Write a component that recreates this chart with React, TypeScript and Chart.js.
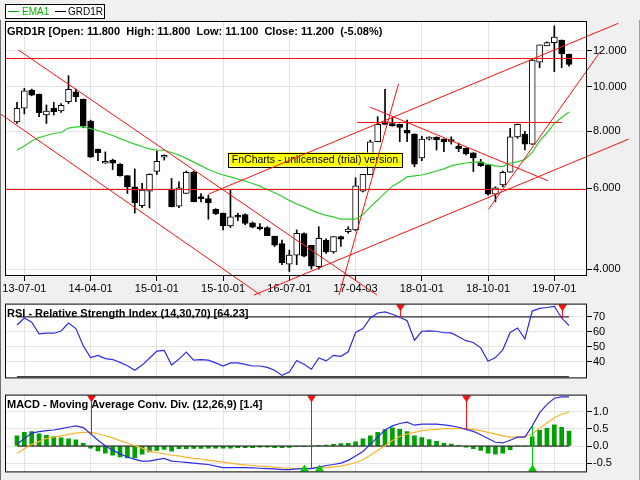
import React, { useEffect, useRef } from 'react';
import { Chart, registerables } from 'chart.js';

Chart.register(...registerables);

const FONT = '"Liberation Sans", Arial, Helvetica, sans-serif';
const GRID = '#e3e3e3';

// ---- x axis (monthly bars, index 0 = 2013-06) ----
const dateTickIndex = [1, 10, 19, 28, 37, 46, 55, 64, 73];
const dateLabels = ['13-07-01', '14-04-01', '15-01-01', '15-10-01', '16-07-01', '17-04-03', '18-01-01', '18-10-01', '19-07-01'];
const X_MIN = -1.63;
const X_MAX = 77.44;

// ---- price data ----
const opens = [
  8.39, 8.98, 9.84, 9.65, 8.68, 8.98, 8.86, 9.28, 9.76, 9.40,
  8.42, 7.31, 6.81, 6.92, 6.77, 6.40, 6.05, 5.50, 5.92, 6.54,
  7.02, 5.97, 5.49, 5.85, 6.51, 5.75, 5.70, 5.40, 5.30, 4.97,
  5.21, 5.26, 5.05, 4.93, 4.93, 4.72, 4.55, 4.10, 4.29, 4.78,
  4.51, 4.05, 4.63, 4.36, 4.71, 4.83, 4.87, 5.92, 6.43, 7.59,
  8.39, 8.32, 8.28, 8.05, 7.89, 7.00, 7.69, 7.76, 7.69, 7.65,
  7.43, 7.34, 7.18, 6.86, 6.76, 5.83, 6.11, 6.51, 7.78, 7.89,
  7.50, 11.32, 12.29, 12.49, 12.66, 11.80,
];
const highs = [
  9.25, 9.93, 9.89, 9.65, 9.13, 9.25, 9.20, 10.58, 9.89, 9.40,
  8.46, 7.31, 7.21, 6.95, 6.80, 6.40, 6.62, 6.16, 6.46, 7.25,
  7.10, 6.31, 6.20, 6.55, 6.55, 5.85, 5.80, 5.42, 5.30, 5.97,
  5.30, 5.28, 5.07, 5.03, 4.95, 4.72, 4.63, 4.40, 4.87, 4.80,
  4.51, 4.95, 4.66, 4.71, 4.72, 4.95, 6.33, 6.44, 7.65, 8.61,
  9.88, 8.58, 8.30, 8.46, 7.90, 7.80, 7.78, 7.78, 7.70, 7.78,
  7.54, 7.36, 7.18, 6.95, 6.76, 6.05, 6.55, 8.12, 8.30, 8.00,
  11.50, 12.35, 12.55, 13.59, 12.66, 11.80,
];
const lows = [
  8.32, 8.73, 9.56, 8.61, 8.32, 8.68, 8.80, 9.20, 9.28, 8.14,
  7.02, 6.90, 6.81, 6.60, 6.38, 5.85, 5.30, 5.45, 5.44, 6.44,
  6.92, 5.47, 5.45, 5.85, 5.61, 5.61, 5.14, 5.26, 4.87, 4.93,
  5.10, 5.00, 4.92, 4.87, 4.73, 4.48, 4.09, 3.95, 4.09, 4.25,
  4.00, 4.00, 4.33, 4.33, 4.48, 4.79, 4.85, 5.90, 6.43, 7.59,
  8.29, 8.20, 7.59, 7.59, 6.69, 6.90, 7.66, 7.28, 7.22, 7.50,
  7.22, 7.10, 6.53, 6.70, 5.80, 5.61, 6.05, 6.51, 7.72, 7.28,
  7.48, 11.01, 12.29, 10.80, 11.01, 11.10,
];
const closes = [
  8.98, 9.81, 9.59, 8.78, 8.86, 8.83, 9.12, 9.88, 9.52, 8.21,
  7.02, 7.18, 6.88, 6.81, 6.40, 6.05, 5.58, 5.95, 6.44, 6.88,
  7.04, 5.47, 6.02, 6.51, 5.61, 5.70, 5.58, 5.28, 4.97, 5.20,
  5.19, 5.03, 4.94, 4.90, 4.73, 4.51, 4.13, 4.29, 4.79, 4.27,
  4.06, 4.67, 4.36, 4.71, 4.65, 4.89, 6.08, 6.44, 7.59, 8.28,
  8.28, 8.23, 8.16, 7.92, 6.78, 7.69, 7.76, 7.67, 7.59, 7.60,
  7.33, 7.14, 7.00, 6.73, 5.83, 6.02, 6.51, 7.78, 8.28, 7.50,
  11.45, 12.35, 12.49, 12.84, 11.80, 11.20,
];
const ema1 = [
  7.28, 7.43, 7.62, 7.75, 7.83, 7.91, 7.95, 8.13, 8.18, 8.18,
  8.11, 8.03, 7.93, 7.83, 7.71, 7.60, 7.50, 7.41, 7.32, 7.28,
  7.27, 7.19, 7.10, 6.98, 6.85, 6.73, 6.60, 6.50, 6.42, 6.36,
  6.29, 6.23, 6.15, 6.07, 5.97, 5.87, 5.77, 5.65, 5.55, 5.47,
  5.38, 5.30, 5.24, 5.20, 5.14, 5.14, 5.14, 5.26, 5.47, 5.66,
  5.87, 6.07, 6.20, 6.36, 6.39, 6.42, 6.48, 6.55, 6.62, 6.72,
  6.78, 6.82, 6.85, 6.85, 6.77, 6.72, 6.70, 6.82, 6.86, 6.94,
  7.19, 7.62, 7.93, 8.32, 8.57, 8.81,
];
const priceTicks = [4, 6, 8, 10, 12];
const PRICE_MIN = 3.863;
const PRICE_MAX = 13.93;

// drawn trend lines: [startIndex, startPrice, endIndex, endPrice]
const trendLines = [
  [0.18, 12.04, 48.9, 3.51],
  [-2.4, 8.76, 33.1, 3.51],
  [26.0, 5.83, 81.7, 13.77],
  [32.2, 3.51, 83.1, 7.69],
  [43.75, 3.51, 51.83, 10.15],
  [47.98, 9.03, 72.13, 6.24],
  [64.06, 5.40, 79.24, 11.94],
];
const hLinePrices = [5.98, 11.55, 8.39];
const hLineFrom = [X_MIN, X_MIN, 46.2];
const hLineTo = [X_MAX, X_MAX, 74.0];

// ---- RSI ----
const rsi = [
  64.6, 69.3, 66.5, 58.7, 59.1, 59.1, 60.6, 65.9, 62.2, 50.7,
  42.8, 44.3, 42.1, 41.5, 39.6, 37.4, 34.4, 37.8, 42.4, 47.1,
  47.6, 37.8, 41.8, 46.5, 41.1, 41.5, 41.1, 39.3, 37.2, 39.3,
  39.3, 38.3, 37.2, 37.2, 36.3, 34.4, 30.9, 33.2, 40.9, 38.3,
  35.0, 42.6, 40.6, 44.3, 43.7, 46.7, 59.6, 62.2, 69.3, 72.6,
  73.3, 71.8, 69.8, 67.4, 54.4, 60.4, 60.7, 60.4, 59.4, 59.3,
  56.7, 54.1, 52.9, 49.3, 40.4, 42.8, 48.0, 59.6, 62.6, 55.4,
  73.9, 75.7, 76.3, 77.1, 69.3, 64.23,
];
const rsiTicks = [40, 50, 60, 70];
const RSI_UPPER = 70;
const RSI_LOWER = 30;
const rsiSellIdx = [52, 74];

// ---- MACD ----
const macd = [
  0.05, 0.22, 0.38, 0.42, 0.45, 0.47, 0.51, 0.55, 0.59, 0.54,
  0.36, 0.17, 0.01, -0.12, -0.23, -0.32, -0.39, -0.44, -0.44, -0.40,
  -0.36, -0.44, -0.46, -0.48, -0.50, -0.52, -0.54, -0.59, -0.63, -0.63,
  -0.63, -0.63, -0.64, -0.65, -0.66, -0.67, -0.69, -0.69, -0.67, -0.66,
  -0.66, -0.62, -0.57, -0.54, -0.50, -0.42, -0.29, -0.16, 0.05, 0.26,
  0.47, 0.59, 0.66, 0.70, 0.61, 0.64, 0.64, 0.64, 0.62, 0.59,
  0.55, 0.49, 0.43, 0.33, 0.22, 0.11, 0.09, 0.17, 0.26, 0.26,
  0.59, 0.97, 1.22, 1.40, 1.44, 1.44,
];
const macdSignal = [
  -0.21, -0.08, 0.05, 0.13, 0.22, 0.26, 0.30, 0.34, 0.38, 0.40,
  0.40, 0.36, 0.30, 0.24, 0.16, 0.09, 0.01, -0.06, -0.15, -0.19,
  -0.23, -0.27, -0.29, -0.33, -0.36, -0.38, -0.42, -0.44, -0.47, -0.50,
  -0.53, -0.55, -0.57, -0.59, -0.60, -0.62, -0.64, -0.65, -0.65, -0.65,
  -0.65, -0.63, -0.63, -0.61, -0.59, -0.54, -0.49, -0.40, -0.27, -0.12,
  0.01, 0.16, 0.28, 0.35, 0.40, 0.45, 0.47, 0.49, 0.51, 0.51,
  0.51, 0.51, 0.48, 0.45, 0.40, 0.35, 0.30, 0.26, 0.26, 0.28,
  0.36, 0.51, 0.68, 0.83, 0.93, 0.99,
];
const macdHist = [
  0.30, 0.40, 0.42, 0.36, 0.31, 0.28, 0.24, 0.21, 0.18, 0.08,
  -0.06, -0.14, -0.21, -0.27, -0.32, -0.35, -0.35, -0.24, -0.17, -0.13,
  -0.10, -0.15, -0.08, -0.08, -0.07, -0.07, -0.06, -0.06, -0.06, -0.06,
  -0.05, -0.05, -0.05, -0.03, -0.03, -0.05, -0.05, -0.04, -0.02, -0.01,
  0.00, 0.02, 0.03, 0.05, 0.07, 0.08, 0.12, 0.21, 0.30, 0.40,
  0.48, 0.53, 0.49, 0.42, 0.30, 0.25, 0.19, 0.14, 0.08, 0.06,
  0.01, -0.03, -0.08, -0.13, -0.21, -0.24, -0.21, -0.11, 0.00, 0.00,
  0.27, 0.46, 0.52, 0.62, 0.55, 0.44,
];
const macdTicks = [-0.5, 0, 0.5, 1.0];
const MACD_MIN = -0.772;
const MACD_MAX = 1.506;
const macdSellIdx = [10, 40, 61];
const macdBuyIdx = [39, 41, 70];

const mainTitle = 'GRD1R [Open: 11.800  High: 11.800  Low: 11.100  Close: 11.200  (-5.08%)';
const rsiTitle = 'RSI - Relative Strength Index (14,30,70) [64.23]';
const macdTitle = 'MACD - Moving Average Conv. Div. (12,26,9) [1.4]';
const watermark = 'FnCharts - unlicensed (trial) version';

const EMA_COLOR = '#2fcc2f';
const RED = '#ff1010';

// ---------- helpers ----------
const xScale = (labels: boolean): any => ({
  type: 'linear',
  position: 'bottom',
  min: X_MIN,
  max: X_MAX,
  offset: false,
  afterBuildTicks: (s: any) => {
    s.ticks = dateTickIndex.map((v) => ({ value: v }));
  },
  afterFit: (s: any) => {
    s.height = labels ? 20 : 0;
  },
  grid: { color: GRID, lineWidth: 1, offset: false, drawTicks: labels, tickLength: 5, tickColor: '#000' },
  border: { display: false },
  ticks: {
    display: labels,
    autoSkip: false,
    maxRotation: 0,
    minRotation: 0,
    padding: 1,
    color: '#000',
    font: { family: FONT, size: 11 },
    callback: (_v: any, idx: number) => dateLabels[idx],
  },
});

const yScale = (type: string, min: number, max: number, tickVals: number[], fmt: (v: number) => string): any => ({
  type,
  position: 'right',
  min,
  max,
  bounds: 'data',
  afterBuildTicks: (s: any) => {
    s.ticks = tickVals.map((v) => ({ value: v }));
  },
  afterFit: (s: any) => {
    s.width = 53;
  },
  grid: { color: GRID, lineWidth: 1, drawTicks: true, tickLength: 5, tickColor: '#000' },
  border: { display: false },
  ticks: {
    padding: 1,
    color: '#000',
    font: { family: FONT, size: 11 },
    callback: (v: any) => fmt(Number(v)),
  },
});

const whiteBg = {
  id: 'whiteBg',
  beforeDraw(chart: any) {
    const { ctx, chartArea: a } = chart;
    ctx.save();
    ctx.fillStyle = '#ffffff';
    ctx.fillRect(a.left, a.top, a.right - a.left, a.bottom - a.top);
    ctx.restore();
  },
};

const frame = {
  id: 'frame',
  afterDraw(chart: any) {
    const { ctx, chartArea: a } = chart;
    ctx.save();
    ctx.strokeStyle = '#000';
    ctx.lineWidth = 1;
    ctx.strokeRect(a.left + 0.5, a.top + 0.5, a.right - a.left - 1, a.bottom - a.top - 1);
    ctx.restore();
  },
};

const titlePlugin = (text: string, baseline: number) => ({
  id: 'panelTitle',
  beforeDatasetsDraw(chart: any) {
    const { ctx, chartArea: a } = chart;
    ctx.save();
    ctx.font = `bold 11px ${FONT}`;
    ctx.fillStyle = '#000';
    ctx.textAlign = 'left';
    ctx.textBaseline = 'alphabetic';
    ctx.fillText(text, a.left + 2, a.top + baseline);
    ctx.restore();
  },
});

function drawSignal(ctx: any, a: any, x: number, yTip: number, fromTop: boolean, color: string) {
  const xr = Math.round(x) + 0.5;
  ctx.strokeStyle = color;
  ctx.fillStyle = color;
  ctx.lineWidth = 1;
  ctx.beginPath();
  if (fromTop) {
    ctx.moveTo(xr, a.top + 6);
  } else {
    ctx.moveTo(xr, a.bottom - 6);
  }
  ctx.lineTo(xr, yTip);
  ctx.stroke();
  ctx.beginPath();
  if (fromTop) {
    ctx.moveTo(xr - 4.5, a.top + 1);
    ctx.lineTo(xr + 4.5, a.top + 1);
    ctx.lineTo(xr, a.top + 8);
  } else {
    ctx.moveTo(xr - 4.5, a.bottom - 1);
    ctx.lineTo(xr + 4.5, a.bottom - 1);
    ctx.lineTo(xr, a.bottom - 8);
  }
  ctx.closePath();
  ctx.fill();
}

const mainOverlay = {
  id: 'mainOverlay',
  beforeDatasetsDraw(chart: any) {
    const { ctx, chartArea: a } = chart;
    ctx.save();
    ctx.font = `bold 11px ${FONT}`;
    ctx.fillStyle = '#000';
    ctx.textBaseline = 'alphabetic';
    ctx.fillText(mainTitle, a.left + 2, a.top + 14);
    ctx.restore();
  },
  afterDatasetsDraw(chart: any) {
    const { ctx, chartArea: a } = chart;
    const xs = chart.scales.x;
    const ys = chart.scales.y;
    // watermark
    ctx.save();
    ctx.font = `10.5px ${FONT}`;
    const tw = ctx.measureText(watermark).width;
    const cx = 315;
    const cy = 159.5;
    const bw = Math.round(tw + 8);
    const bx = Math.round(cx - bw / 2) + 0.5;
    ctx.fillStyle = '#ffff00';
    ctx.fillRect(bx, cy - 7, bw, 14);
    ctx.strokeStyle = '#000';
    ctx.lineWidth = 1;
    ctx.strokeRect(bx, Math.round(cy - 7) + 0.5, bw, 14);
    ctx.fillStyle = '#000';
    ctx.textBaseline = 'middle';
    ctx.textAlign = 'center';
    ctx.fillText(watermark, cx, cy + 1);
    ctx.restore();
    // trend lines
    ctx.save();
    ctx.beginPath();
    ctx.rect(0, a.top, chart.width, chart.height - a.top);
    ctx.clip();
    ctx.strokeStyle = RED;
    ctx.lineWidth = 1;
    for (const t of trendLines) {
      ctx.beginPath();
      ctx.moveTo(xs.getPixelForValue(t[0]), ys.getPixelForValue(t[1]));
      ctx.lineTo(xs.getPixelForValue(t[2]), ys.getPixelForValue(t[3]));
      ctx.stroke();
    }
    for (let k = 0; k < hLinePrices.length; k++) {
      const y = Math.round(ys.getPixelForValue(hLinePrices[k])) + 0.5;
      ctx.beginPath();
      ctx.moveTo(Math.max(a.left, xs.getPixelForValue(hLineFrom[k])), y);
      ctx.lineTo(Math.min(a.right, xs.getPixelForValue(hLineTo[k])), y);
      ctx.stroke();
    }
    ctx.restore();
  },
  afterDraw(chart: any) {
    const { ctx } = chart;
    ctx.save();
    ctx.fillStyle = '#fff';
    ctx.fillRect(5, 4, 99, 14);
    ctx.strokeStyle = '#000';
    ctx.lineWidth = 1;
    ctx.strokeRect(5.5, 4.5, 99, 14);
    ctx.font = `10px ${FONT}`;
    ctx.textBaseline = 'middle';
    ctx.textAlign = 'left';
    ctx.strokeStyle = '#00b400';
    ctx.beginPath();
    ctx.moveTo(8, 11.5);
    ctx.lineTo(19, 11.5);
    ctx.stroke();
    ctx.fillStyle = '#00b400';
    ctx.fillText('EMA1', 22, 12);
    ctx.strokeStyle = '#000';
    ctx.beginPath();
    ctx.moveTo(55, 11.5);
    ctx.lineTo(66, 11.5);
    ctx.stroke();
    ctx.fillStyle = '#000';
    ctx.fillText('GRD1R', 68, 12);
    ctx.restore();
  },
};

const rsiOverlay = {
  id: 'rsiOverlay',
  afterDatasetsDraw(chart: any) {
    const { ctx, chartArea: a } = chart;
    const xs = chart.scales.x;
    const ys = chart.scales.y;
    ctx.save();
    for (const i of rsiSellIdx) {
      drawSignal(ctx, a, xs.getPixelForValue(i), ys.getPixelForValue(rsi[i]), true, RED);
    }
    ctx.restore();
  },
};

const macdOverlay = {
  id: 'macdOverlay',
  afterDatasetsDraw(chart: any) {
    const { ctx, chartArea: a } = chart;
    const xs = chart.scales.x;
    const ys = chart.scales.y;
    ctx.save();
    for (const i of macdSellIdx) {
      drawSignal(ctx, a, xs.getPixelForValue(i), ys.getPixelForValue(macd[i]), true, RED);
    }
    for (const i of macdBuyIdx) {
      drawSignal(ctx, a, xs.getPixelForValue(i), ys.getPixelForValue(macd[i]), false, '#00cc00');
    }
    ctx.restore();
  },
};

const baseOptions = (padding: any, scales: any): any => ({
  responsive: false,
  maintainAspectRatio: false,
  animation: false,
  events: [],
  layout: { padding },
  plugins: { legend: { display: false }, tooltip: { enabled: false }, title: { display: false } },
  scales,
});

export default function App() {
  const mainRef = useRef<HTMLCanvasElement>(null);
  const rsiRef = useRef<HTMLCanvasElement>(null);
  const macdRef = useRef<HTMLCanvasElement>(null);

  useEffect(() => {
    document.body.style.margin = '0';
    const charts: any[] = [];

    charts.push(
      new Chart(mainRef.current as HTMLCanvasElement, {
        type: 'bar',
        data: {
          datasets: [
            {
              type: 'line',
              label: 'EMA1',
              data: ema1.map((v, i) => ({ x: i, y: v })),
              borderColor: EMA_COLOR,
              borderWidth: 1.2,
              pointRadius: 0,
              tension: 0,
            } as any,
            {
              type: 'bar',
              label: 'GRD1R',
              data: opens.map((o, i) => ({ x: i, y: [o, closes[i]] })),
              backgroundColor: opens.map((o, i) => (closes[i] >= o ? '#ffffff' : '#000000')),
              borderColor: '#000',
              borderWidth: 1,
              borderSkipped: false,
              barThickness: 6,
              minBarLength: 2,
              grouped: false,
            } as any,
            {
              type: 'bar',
              label: 'wick',
              data: lows.map((l, i) => ({ x: i, y: [l, highs[i]] })),
              backgroundColor: '#000',
              borderWidth: 0,
              barThickness: 1,
              grouped: false,
            } as any,
          ],
        },
        options: baseOptions(
          { left: 5, top: 21, right: 0, bottom: 0 },
          {
            x: xScale(true),
            y: yScale('logarithmic', PRICE_MIN, PRICE_MAX, priceTicks, (v) => v.toFixed(3)),
          }
        ),
        plugins: [whiteBg, mainOverlay, frame],
      } as any)
    );

    charts.push(
      new Chart(rsiRef.current as HTMLCanvasElement, {
        type: 'line',
        data: {
          datasets: [
            {
              label: 'RSI',
              data: rsi.map((v, i) => ({ x: i, y: v })),
              borderColor: '#2d2de0',
              borderWidth: 1.2,
              pointRadius: 0,
              tension: 0,
            },
            {
              label: 'upper',
              data: [
                { x: 0, y: RSI_UPPER },
                { x: rsi.length - 1, y: RSI_UPPER },
              ],
              borderColor: '#000',
              borderWidth: 1,
              pointRadius: 0,
            },
            {
              label: 'lower',
              data: [
                { x: 0, y: RSI_LOWER },
                { x: rsi.length - 1, y: RSI_LOWER },
              ],
              borderColor: '#000',
              borderWidth: 1,
              pointRadius: 0,
            },
          ],
        },
        options: baseOptions(
          { left: 5, top: 0, right: 0, bottom: 0 },
          {
            x: xScale(false),
            y: yScale('linear', 28.9, 78.9, rsiTicks, (v) => String(v)),
          }
        ),
        plugins: [whiteBg, titlePlugin(rsiTitle, 13), rsiOverlay, frame],
      } as any)
    );

    charts.push(
      new Chart(macdRef.current as HTMLCanvasElement, {
        type: 'bar',
        data: {
          datasets: [
            {
              type: 'line',
              label: 'MACD',
              data: macd.map((v, i) => ({ x: i, y: v })),
              borderColor: '#2d2de0',
              borderWidth: 1.2,
              pointRadius: 0,
              tension: 0,
            } as any,
            {
              type: 'line',
              label: 'Signal',
              data: macdSignal.map((v, i) => ({ x: i, y: v })),
              borderColor: '#f8b42a',
              borderWidth: 1.2,
              pointRadius: 0,
              tension: 0,
            } as any,
            {
              type: 'line',
              label: 'zero',
              data: [
                { x: 0, y: 0 },
                { x: macd.length - 1, y: 0 },
              ],
              borderColor: '#000',
              borderWidth: 1,
              pointRadius: 0,
            } as any,
            {
              type: 'bar',
              label: 'Hist',
              data: macdHist.map((v, i) => ({ x: i, y: v })),
              backgroundColor: '#00a000',
              borderWidth: 0,
              barThickness: 4,
              grouped: false,
            } as any,
          ],
        },
        options: baseOptions(
          { left: 5, top: 0, right: 0, bottom: 3 },
          {
            x: xScale(false),
            y: yScale('linear', MACD_MIN, MACD_MAX, macdTicks, (v) => v.toFixed(1)),
          }
        ),
        plugins: [whiteBg, titlePlugin(macdTitle, 13.5), macdOverlay, frame],
      } as any)
    );

    return () => {
      charts.forEach((c) => c.destroy());
    };
  }, []);

  return (
    <div
      style={{
        position: 'absolute',
        left: 0,
        top: 0,
        width: 640,
        height: 480,
        background: '#f0f0f0',
        overflow: 'hidden',
      }}
    >
      <canvas ref={mainRef} width={640} height={296} style={{ position: 'absolute', left: 0, top: 0 }} />
      <canvas ref={rsiRef} width={640} height={90} style={{ position: 'absolute', left: 0, top: 296 }} />
      <canvas ref={macdRef} width={640} height={93} style={{ position: 'absolute', left: 0, top: 387 }} />
      <div style={{ position: 'absolute', left: 0, top: 20, width: 1, height: 460, background: '#707070' }} />
      <div style={{ position: 'absolute', left: 639, top: 20, width: 1, height: 460, background: '#a0a0a0' }} />
    </div>
  );
}
